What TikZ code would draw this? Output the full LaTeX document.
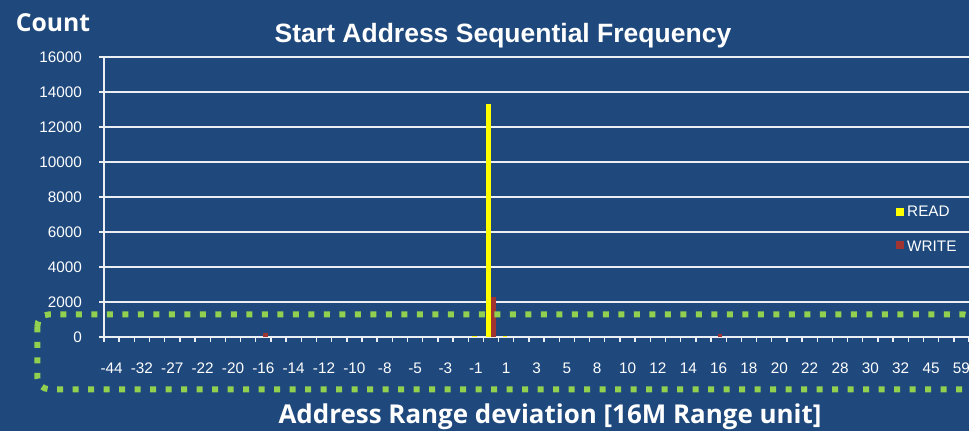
\documentclass[tikz,border=0pt]{standalone}
\usepackage{fontspec}
\setmainfont{Liberation Sans}
\newfontfamily\headfont{Open Sans}
\definecolor{chartbg}{RGB}{31,73,125}
\definecolor{readc}{RGB}{255,255,0}
\definecolor{writec}{RGB}{160,52,48}
\definecolor{hilite}{RGB}{146,208,80}
\definecolor{gridc}{RGB}{235,238,242}
\tikzset{
  gridline/.style={draw=gridc, line width=1.4pt},
  ticklbl/.style={text=white, inner sep=0pt, font=\fontsize{15.3}{18}\selectfont},
  readbar/.style={fill=readc, draw=none},
  writebar/.style={fill=writec, draw=none},
}
\begin{document}
\begin{tikzpicture}[x=1pt, y=-1pt]
% canvas
\fill[chartbg] (0,0) rectangle (969,431);
\useasboundingbox (0,0) rectangle (969,431);

% horizontal grid (16000 ... 2000) and value labels
\foreach \i/\v in {0/16000,1/14000,2/12000,3/10000,4/8000,5/6000,6/4000,7/2000,8/0} {
  \pgfmathsetmacro{\yy}{57+35*\i}
  \draw[gridline] (99,\yy) -- (969,\yy);
  \node[ticklbl, anchor=east] (ylab\i) at (82,\yy) {\v};
}
% value axis
\draw[gridline] (104,57) -- (104,342);

% category ticks
\pgfmathsetmacro{\cw}{865/57}
\foreach \k in {1,...,57} {
  \pgfmathsetmacro{\xx}{104+\k*\cw}
  \draw[gridline] (\xx,337) -- (\xx,342);
}

% category labels (every second category)
\foreach \lab [count=\n from 0] in {-44,-32,-27,-22,-20,-16,-14,-12,-10,-8,-5,-3,-1,1,3,5,8,10,12,14,16,18,20,22,28,30,32,45,59} {
  \pgfmathsetmacro{\xx}{104+(2*\n+0.5)*\cw}
  \node[ticklbl, anchor=base] (xlab\n) at (\xx,373.3) {\lab};
}

% bars: READ left of category centre, WRITE right of it
\pgfmathsetmacro{\cz}{104+25.5*\cw}
\fill[readbar] (\cz-4.7,104) rectangle (\cz,337);
\fill[writebar] (\cz,297.3) rectangle (\cz+4.7,337);
\pgfmathsetmacro{\cm}{104+24.5*\cw}
\fill[readbar] (\cm-3.4,335.8) rectangle (\cm+1,337);
\pgfmathsetmacro{\cp}{104+26.5*\cw}
\fill[readbar] (\cp-3.4,335.8) rectangle (\cp+1,337);
\pgfmathsetmacro{\ca}{104+10.5*\cw}
\fill[writebar] (\ca,333) rectangle (\ca+4.5,337);
\pgfmathsetmacro{\cb}{104+40.5*\cw}
\fill[writebar] (\cb-1,333.5) rectangle (\cb+3.5,337);

% legend
\fill[readc] (896,208) rectangle (904,215.7);
\node[ticklbl, anchor=base west] (legread) at (907,216.7) {READ};
\fill[writec] (896,241) rectangle (904,249);
\node[ticklbl, anchor=base west] (legwrite) at (907,251) {WRITE};

% titles
\node[text=white, inner sep=0pt, anchor=base, font=\bfseries\fontsize{26.5}{30}\selectfont] (title) at (503,42.3) {Start Address Sequential Frequency};
\node[text=white, inner sep=0pt, anchor=base west] (ytitle) at (15.7,31.7) {\resizebox{74.3pt}{!}{\headfont\bfseries Count}};
\node[text=white, inner sep=0pt, anchor=base west] (xtitle) at (278.3,423.3) {\resizebox{543pt}{!}{\headfont\bfseries Address Range deviation [16M Range unit]}};

% dotted highlight frame round the category axis
\draw[hilite, line width=6pt, dash pattern=on 6pt off 9.5pt, rounded corners=12pt] (37.3,314.3) rectangle (975,389.3);
\end{tikzpicture}
\end{document}
